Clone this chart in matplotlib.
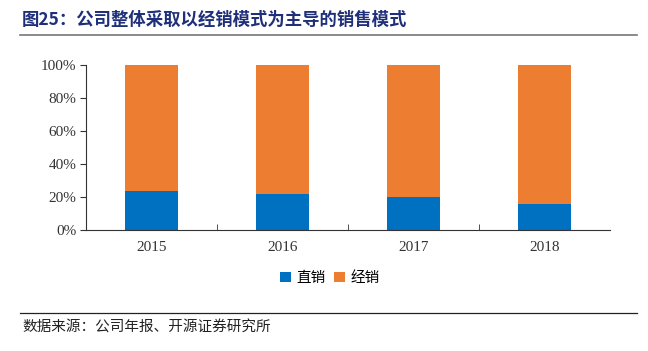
import matplotlib.pyplot as plt
import numpy as np
from matplotlib.lines import Line2D

plt.rcParams['font.family'] = ['Liberation Serif', 'Noto Sans CJK SC']

years = ['2015', '2016', '2017', '2018']
direct = [23.5, 21.8, 20.0, 16.0]
dealer = [100 - v for v in direct]

blue = '#0070C0'
orange = '#ED7D31'

fig = plt.figure(figsize=(6.48, 3.51), dpi=100)
ax = fig.add_axes([86 / 648, 1 - 230 / 351, 524 / 648, 165 / 351])

x = np.arange(len(years))
ax.bar(x, direct, width=0.4, color=blue, label='直销')
ax.bar(x, dealer, width=0.4, bottom=direct, color=orange, label='经销')

ax.set_xlim(-0.5, len(years) - 0.5)
ax.set_ylim(0, 100)
ax.set_yticks(np.arange(0, 101, 20))
ax.set_yticklabels([f'{v}%' for v in range(0, 101, 20)], fontsize=11, color='#333333')
ax.set_xticks(x)
ax.set_xticklabels(years, fontsize=11, color='#333333')
ax.tick_params(axis='x', length=0, pad=8)
ax.set_xticks(np.arange(0.5, len(years) - 1, 1), minor=True)
ax.tick_params(axis='x', which='minor', direction='in', length=4, color='#333333')
ax.tick_params(axis='y', length=4, direction='out', color='#333333', pad=3)
for s in ['top', 'right']:
    ax.spines[s].set_visible(False)
ax.spines['left'].set_color('#333333')
ax.spines['bottom'].set_color('#333333')

fig.legend(loc='center', bbox_to_anchor=(330 / 648, 1 - 278 / 351), ncol=2, frameon=False,
           prop={'family': ['Noto Sans CJK SC'], 'size': 10.5},
           handlelength=0.7, handleheight=0.7, handletextpad=0.4, columnspacing=0.6)

fig.text(22 / 648, 1 - 20 / 351, '图25：公司整体采取以经销模式为主导的销售模式', fontsize=12.5,
         fontweight='bold', color='#1F2F7A', va='center', family=['Noto Sans CJK SC'])
fig.add_artist(Line2D([20 / 648, 637 / 648], [1 - 35 / 351] * 2, color='#777777', lw=1.2))
fig.add_artist(Line2D([20 / 648, 637 / 648], [1 - 313 / 351] * 2, color='#222222', lw=0.9))
fig.text(22 / 648, 1 - 328 / 351, '数据来源：公司年报、开源证券研究所', fontsize=10.5,
         color='#222222', va='center', family=['Noto Sans CJK SC'])

fig.savefig('out.png', dpi=100)
